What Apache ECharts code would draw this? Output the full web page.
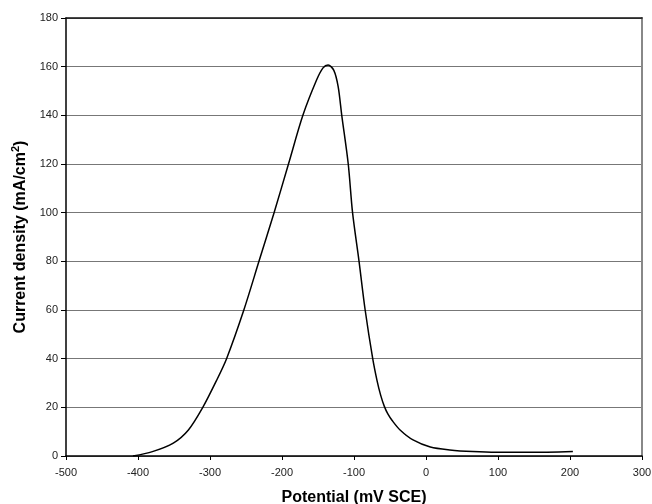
<!DOCTYPE html>
<html>
<head>
<meta charset="utf-8">
<script src="https://cdn.jsdelivr.net/npm/echarts@6/dist/echarts.min.js"></script>
<style>html,body{margin:0;padding:0;background:#fff}#c{width:652px;height:504px}</style>
</head>
<body>
<div id="c"></div>
<script>
const potential = [-407, -380, -351, -330, -310, -291, -277, -253, -232, -211, -191, -171, -152, -143, -136, -128, -122, -117, -108, -102, -93, -84.5, -74, -68, -63, -58, -53, -47, -36, -18, 6, 33, 65, 98, 144, 204];
const current = [0, 1.8, 5.3, 10.7, 20, 31, 40, 60, 80, 100, 120, 140, 154.5, 159.5, 160.7, 158.5, 151.8, 140, 120, 100, 80, 60, 40, 31, 25, 20.5, 17.3, 14.6, 10.7, 6.6, 3.7, 2.5, 1.8, 1.5, 1.5, 1.9];
const xTicks = [-500, 300, 100];
const yTicks = [0, 180, 20];
const xTitle = 'Potential (mV SCE)';
const yTitle = 'Current density (mA/cm';

const chart = echarts.init(document.getElementById('c'), null, {renderer: 'canvas'});
const font = 'Liberation Sans, Arial, sans-serif';
chart.setOption({
  animation: false,
  backgroundColor: '#fff',
  grid: {left: 66, right: 10, top: 18, bottom: 48, containLabel: false, outerBoundsMode: 'none'},
  xAxis: [{
    type: 'value', min: xTicks[0], max: xTicks[1], interval: xTicks[2],
    axisLine: {show: true, onZero: false, lineStyle: {color: '#000', width: 1.5}},
    axisTick: {show: true, length: 4, lineStyle: {color: '#000'}},
    axisLabel: {color: '#222', fontSize: 11, fontFamily: font, margin: 11},
    splitLine: {show: false},
    name: xTitle, nameLocation: 'middle', nameGap: 34,
    nameTextStyle: {color: '#000', fontSize: 16, fontWeight: 'bold', fontFamily: font}
  }, {
    type: 'value', position: 'top', min: xTicks[0], max: xTicks[1],
    axisLine: {show: true, onZero: false, lineStyle: {color: '#111', width: 1.5}},
    axisTick: {show: false}, axisLabel: {show: false}, splitLine: {show: false}
  }],
  yAxis: [{
    type: 'value', min: yTicks[0], max: yTicks[1], interval: yTicks[2],
    axisLine: {show: true, onZero: false, lineStyle: {color: '#000', width: 1.5}},
    axisTick: {show: true, length: 5, lineStyle: {color: '#000'}},
    axisLabel: {color: '#222', fontSize: 11, fontFamily: font, margin: 8},
    splitLine: {show: true, lineStyle: {color: '#777', width: 1}}
  }, {
    type: 'value', position: 'right', min: yTicks[0], max: yTicks[1],
    axisLine: {show: true, onZero: false, lineStyle: {color: '#888', width: 2}},
    axisTick: {show: false}, axisLabel: {show: false}, splitLine: {show: false}
  }],
  graphic: [{
    type: 'text', x: 21, y: 237, rotation: Math.PI / 2,
    style: {
      text: '{a|' + yTitle + '}{s|2}{a|)}',
      align: 'center', verticalAlign: 'middle',
      rich: {
        a: {fontSize: 16, fontWeight: 'bold', fontFamily: font, fill: '#000'},
        s: {fontSize: 11, fontWeight: 'bold', fontFamily: font, fill: '#000', padding: [0, 0, 10, 0]}
      }
    }
  }],
  series: [{
    type: 'line', xAxisIndex: 0, yAxisIndex: 0,
    data: potential.map((p, i) => [p, current[i]]),
    showSymbol: false, smooth: 0.3,
    lineStyle: {color: '#000', width: 1.5}
  }]
});
</script>
</body>
</html>
